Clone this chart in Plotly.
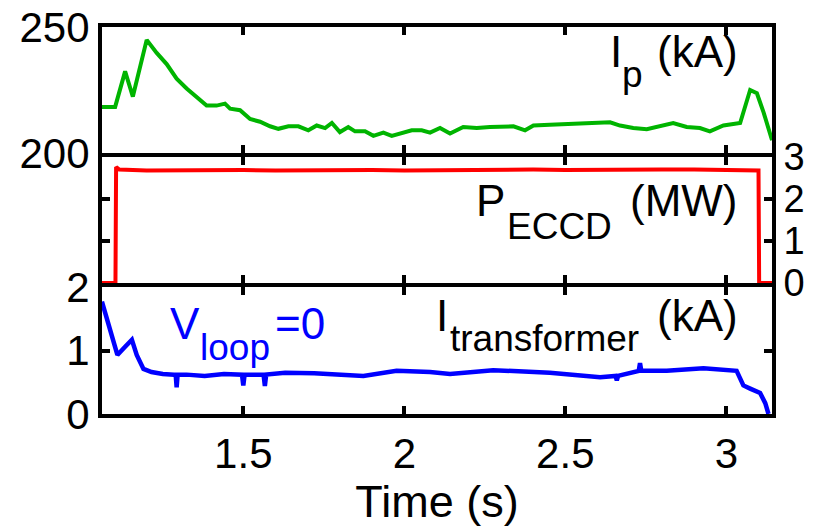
import plotly.graph_objects as go

# ---- data ----
t_ip = [1.061, 1.102, 1.133, 1.157, 1.200, 1.231, 1.262, 1.293, 1.324, 1.355,
        1.386, 1.417, 1.443, 1.459, 1.490, 1.521, 1.552, 1.583, 1.609, 1.640,
        1.671, 1.702, 1.728, 1.754, 1.775, 1.800, 1.826, 1.847, 1.878, 1.904,
        1.935, 1.961, 1.997, 2.023, 2.054, 2.080, 2.111, 2.142, 2.183, 2.225,
        2.266, 2.297, 2.339, 2.375, 2.401, 2.452, 2.504, 2.556, 2.608, 2.639,
        2.670, 2.711, 2.753, 2.784, 2.835, 2.877, 2.918, 2.949, 2.991, 3.043,
        3.063, 3.074, 3.095, 3.116, 3.142]
ip_kA = [218.3, 218.3, 232.4, 222.4, 244.9, 239.7, 235.3, 229.5, 225.6, 222.4,
         218.8, 218.8, 219.6, 217.6, 217.0, 213.5, 212.4, 210.6, 209.6, 210.6,
         210.6, 209.0, 210.9, 209.9, 211.9, 208.3, 210.3, 208.6, 208.6, 206.8,
         208.1, 206.8, 208.1, 209.0, 209.0, 208.1, 209.9, 207.7, 210.3, 209.9,
         210.3, 210.3, 210.6, 209.0, 210.9, 211.2, 211.5, 211.9, 212.4, 212.2,
         210.9, 209.9, 209.4, 210.3, 211.9, 210.3, 209.9, 208.6, 210.9, 211.9,
         221.2, 225.0, 223.7, 216.0, 205.1]

t_p = [1.061, 1.103, 1.105, 1.115, 1.20, 1.30, 1.40, 1.50, 1.60, 1.70,
       1.80, 1.90, 2.00, 2.10, 2.20, 2.30, 2.40, 2.50, 2.60, 2.70,
       2.80, 2.90, 3.00, 3.05, 3.100, 3.102, 3.142]
p_eccd_MW = [0.0, 0.0, 2.76, 2.70, 2.68, 2.69, 2.68, 2.69, 2.68, 2.69,
             2.68, 2.69, 2.68, 2.69, 2.70, 2.69, 2.70, 2.69, 2.70, 2.70,
             2.70, 2.70, 2.69, 2.69, 2.68, 0.0, 0.0]

t_it = [1.061, 1.086, 1.109, 1.133, 1.154, 1.169, 1.190, 1.215, 1.250, 1.285,
        1.290, 1.293, 1.296, 1.324, 1.380, 1.440, 1.496, 1.500, 1.504, 1.563,
        1.567, 1.571, 1.630, 1.720, 1.800, 1.873, 1.976, 2.080, 2.142, 2.276,
        2.452, 2.608, 2.656, 2.660, 2.664, 2.728, 2.732, 2.736, 2.815, 2.929,
        3.032, 3.053, 3.074, 3.105, 3.121, 3.131]
i_transformer_kA = [1.77, 1.36, 0.93, 1.06, 1.17, 0.93, 0.71, 0.66, 0.63, 0.62,
                    0.62, 0.42, 0.62, 0.62, 0.60, 0.63, 0.62, 0.45, 0.62, 0.62,
                    0.44, 0.62, 0.65, 0.64, 0.62, 0.60, 0.68, 0.66, 0.63, 0.69,
                    0.65, 0.58, 0.60, 0.53, 0.60, 0.68, 0.80, 0.68, 0.68, 0.72,
                    0.68, 0.45, 0.40, 0.33, 0.17, 0.0]

time_ticks = [1.5, 2, 2.5, 3]
time_tick_text = ["1.5", "2", "2.5", "3"]
t_range = [1.0612, 3.1419]

FONT = "Liberation Sans, Arial, Helvetica, sans-serif"
W, H = 814, 527
ML, MR, MT, MB = 102, 42, 27, 113
PW, PH = W - ML - MR, H - MT - MB


def dom(top_px, bottom_px):
    """Vertical domain (paper units) from page-pixel edges."""
    return [(H - MB - bottom_px) / PH, (H - MB - top_px) / PH]


def py(px):
    return (H - MB - px) / PH


fig = go.Figure()
fig.add_trace(go.Scatter(x=t_ip, y=ip_kA, mode="lines", xaxis="x", yaxis="y",
                         line=dict(color="#00b400", width=4)))
fig.add_trace(go.Scatter(x=t_p, y=p_eccd_MW, mode="lines", xaxis="x2", yaxis="y2",
                         line=dict(color="#ff0000", width=4)))
fig.add_trace(go.Scatter(x=t_it, y=i_transformer_kA, mode="lines", xaxis="x3", yaxis="y3",
                         line=dict(color="#0000ff", width=4.5)))

axis_style = dict(ticks="inside", ticklen=8, tickwidth=4, tickcolor="black",
                  showline=True, linecolor="black", linewidth=4, mirror="allticks",
                  showgrid=False, zeroline=False,
                  tickfont=dict(family=FONT, size=42, color="black"))

xa = dict(axis_style, range=t_range, tickvals=time_ticks, ticktext=time_tick_text)

fig.update_layout(
    xaxis=dict(xa, anchor="y", showticklabels=False),
    xaxis2=dict(xa, anchor="y2", matches="x", showticklabels=False),
    xaxis3=dict(xa, anchor="y3", matches="x", showticklabels=True,
                ticklabelstandoff=0,
                title=dict(text="Time (s)", standoff=10,
                           font=dict(family=FONT, size=45, color="black"))),
    yaxis=dict(axis_style, domain=dom(27, 153), anchor="x", range=[200, 250],
               tickvals=[200, 250], ticktext=["200", "250"]),
    yaxis2=dict(axis_style, domain=dom(157, 283), anchor="x2", range=[0, 3],
                tickvals=[0, 1, 2, 3], ticktext=["0", "1", "2", "3"], side="right",
                tickfont=dict(family=FONT, size=38, color="black")),
    yaxis3=dict(axis_style, domain=dom(287, 414), anchor="x3", range=[0, 2],
                tickvals=[0, 1, 2], ticktext=["0", "1", "2"]),
)


def label(text, left_px, baseline_px, size, color="black"):
    """Place text with its left edge and baseline given in page pixels."""
    fig.add_annotation(text=text, xref="paper", yref="paper",
                       x=(left_px - ML) / PW,
                       y=py(baseline_px + 0.22 * size + 1),
                       xanchor="left", yanchor="bottom", showarrow=False,
                       font=dict(family=FONT, size=size, color=color))


# I_p (kA)
label("I", 608, 67, 44)
label("p", 620, 88, 37)
label("(kA)", 655, 67, 44)
# P_ECCD (MW)
label("P", 474, 216, 44)
label("ECCD", 505, 240, 37)
label("(MW)", 628, 216, 44)
# I_transformer (kA)
label("I", 434, 331, 44)
label("transformer", 448, 352, 37)
label("(kA)", 655, 331, 44)
# V_loop = 0
label("V", 168, 339, 44, "#0000ff")
label("loop", 198, 361, 37, "#0000ff")
label("=0", 273, 339, 44, "#0000ff")

fig.update_layout(width=W, height=H, showlegend=False,
                  margin=dict(l=ML, r=MR, t=MT, b=MB, autoexpand=False),
                  paper_bgcolor="white", plot_bgcolor="white",
                  font=dict(family=FONT, color="black"))

fig.write_html("out.html")
